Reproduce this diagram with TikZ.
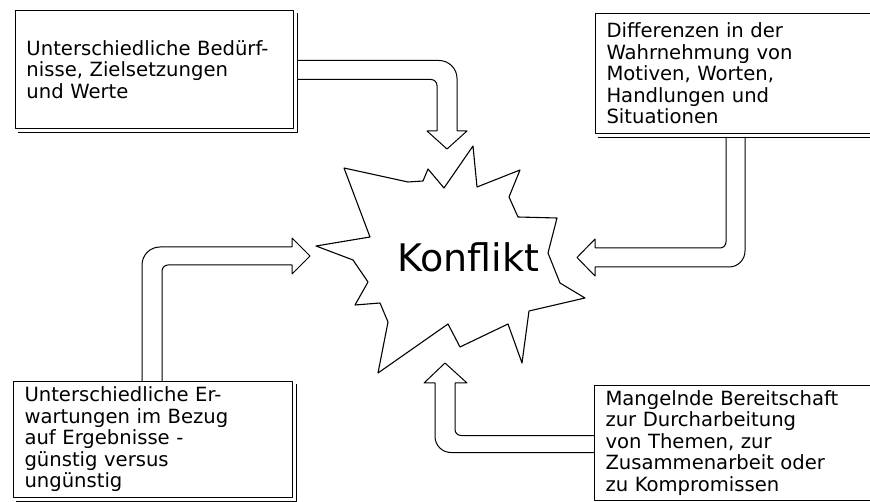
\documentclass[tikz,border=0pt]{standalone}
\usepackage{fontspec}
\setmainfont{DejaVu Sans}
\usepackage{tikz}

\begin{document}
\begin{tikzpicture}[x=1pt,y=-1pt,line width=1pt,line join=round,
                    font=\fontsize{19.6}{21.5}\selectfont]
  \tikzstyle{box}=[draw,anchor=north west,align=left,inner xsep=11pt,inner ysep=0pt]
  \tikzstyle{shadow}=[line width=0.9pt]
  \tikzstyle{burst}=[line width=1.1pt]

  \useasboundingbox (0,0) rectangle (870,502);

  \node[box,minimum width=278pt,minimum height=118pt,text width=256pt] (b1) at (15,10)
    {Unterschiedliche Bedürf-\\nisse, Zielsetzungen\\und Werte};
  \node[box,minimum width=290pt,minimum height=120pt,text width=268pt] (b2) at (595,13)
    {Differenzen in der\\Wahrnehmung von\\Motiven, Worten,\\Handlungen und\\Situationen};
  \node[box,minimum width=279pt,minimum height=116pt,text width=257pt] (b3) at (13,381)
    {Unterschiedliche Er-\\wartungen im Bezug\\auf Ergebnisse -\\günstig versus\\ungünstig};
  \node[box,minimum width=290pt,minimum height=115pt,text width=268pt] (b4) at (594,385)
    {Mangelnde Bereitschaft\\zur Durcharbeitung\\von Themen, zur\\Zusammenarbeit oder\\zu Kompromissen};

  \draw[shadow] ([xshift=3pt,yshift=-3pt]b1.south west) -| ([xshift=3pt,yshift=-3pt]b1.north east);
  \draw[shadow] ([xshift=3pt,yshift=-3pt]b2.south west) -| ([xshift=3pt,yshift=-3pt]b2.north east);
  \draw[shadow] ([xshift=3pt,yshift=-3pt]b3.south west) -| ([xshift=3pt,yshift=-3pt]b3.north east);
  \draw[shadow] ([xshift=3pt,yshift=-3pt]b4.south west) -| ([xshift=3pt,yshift=-3pt]b4.north east);

  \draw[burst] (344,168) -- (408,182) -- (423,181) -- (428,169) -- (444,188) -- (473,146)
        -- (477,187) -- (520,170) -- (509,197) -- (518,217) -- (557,218) -- (548,253)
        -- (560,283) -- (585,298) -- (529,311) -- (522,363) -- (508,324) -- (460,347)
        -- (448,324) -- (378,373) -- (388,322) -- (380,303) -- (355,305) -- (368,282)
        -- (353,260) -- (316,246) -- (370,237) -- cycle;
  \node[font=\fontsize{38}{42}\selectfont] (k) at (468,257) {Konflikt};

  \coordinate (t1) at (447,149);
  \coordinate (t2) at (577,257.5);
  \coordinate (t3) at (310,256);
  \coordinate (t4) at (445,363);

  \draw ([xshift=3pt,yshift=9pt]b1.east) [rounded corners=18pt] -| (457,131)
        ([xshift=3pt,yshift=-10pt]b1.east) [rounded corners=6pt] -| (437,131)
        [sharp corners] (437,131) -- (427,131) -- (t1) -- (467,131) -- (457,131);
  \draw ([xshift=150pt,yshift=-3pt]b2.south west) [rounded corners=16pt] |- (595,267)
        ([xshift=131pt,yshift=-3pt]b2.south west) [rounded corners=6pt] |- (595,248)
        [sharp corners] (595,248) -- (595,239) -- (t2) -- (595,276) -- (595,267);
  \draw ([xshift=129pt]b3.north west) [rounded corners=18pt] |- (292,247)
        ([xshift=149pt]b3.north west) [rounded corners=6pt] |- (292,265)
        [sharp corners] (292,247) -- (292,238) -- (t3) -- (292,274) -- (292,265);
  \draw ([yshift=7.5pt]b4.west) [rounded corners=6pt] -| (455,383)
        ([yshift=-9.5pt]b4.west) [rounded corners=16pt] -| (435,383)
        [sharp corners] (435,383) -- (424,383) -- (t4) -- (467,383) -- (455,383);

\end{tikzpicture}
\end{document}
